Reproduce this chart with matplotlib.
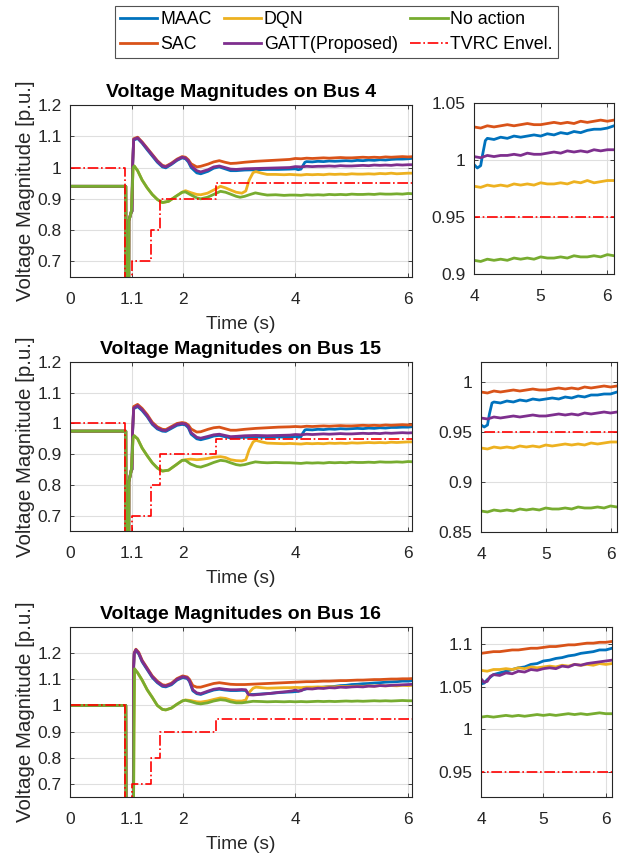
import matplotlib
matplotlib.use("Agg")
import matplotlib.pyplot as plt
from matplotlib.lines import Line2D

plt.rcParams['font.family'] = ['Liberation Sans', 'DejaVu Sans']

# ---------------- data ----------------
series_names = ["MAAC", "SAC", "DQN", "GATT(Proposed)", "No action"]
series_colors = ["#0072BD", "#D95319", "#EDB120", "#7E2F8E", "#77AC30"]
env_name = "TVRC Envel."

# TVRC envelope (step, post)
env_t = [0.0, 0.98, 1.1, 1.43, 1.6, 2.6, 6.1]
env_v = [1.0, 0.0, 0.7, 0.8, 0.9, 0.95, 0.95]

# ----- Bus 4 -----
b4_pre_t = [0.0, 0.99, 1.0, 1.04, 1.045, 1.09]
b4_pre_v = [0.94, 0.94, 0.30, 0.30, 0.83, 0.86]
b4_ss_t = [4.0, 4.1, 4.2, 4.3, 4.4, 4.5, 4.6, 4.7, 4.8, 4.9, 5.0, 5.1, 5.2, 5.3, 5.4, 5.5,
           5.6, 5.7, 5.8, 5.9, 6.0, 6.1]

b4_maac_t = [1.1, 1.11, 1.13, 1.2, 1.28, 1.37, 1.46, 1.55, 1.64, 1.7, 1.8, 1.9, 1.99, 2.05, 2.1,
             2.15, 2.25, 2.32, 2.45, 2.55, 2.65, 2.75, 2.85, 2.95, 3.1, 3.3, 3.5, 3.7, 3.9,
             4.0, 4.05, 4.1, 4.13, 4.17, 4.2, 4.3, 4.4, 4.5, 4.6, 4.7, 4.8, 4.9, 5.0, 5.1, 5.2,
             5.3, 5.4, 5.5, 5.6, 5.7, 5.8, 5.9, 6.0, 6.1]
b4_maac_v = [0.86, 1.0, 1.088, 1.093, 1.078, 1.057, 1.037, 1.017, 1.002, 0.999, 1.01, 1.023, 1.031, 1.028, 1.018,
             1.0, 0.983, 0.98, 0.988, 0.998, 1.002, 0.996, 0.99, 0.99, 0.992, 0.993, 0.994, 0.994, 0.995,
             0.996, 0.993, 0.995, 1.005, 1.017, 1.019, 1.018, 1.020, 1.019, 1.021, 1.020, 1.021, 1.022, 1.021, 1.023, 1.022,
             1.024, 1.023, 1.025, 1.024, 1.026, 1.027, 1.027, 1.028, 1.030]

b4_sac_t = [1.1, 1.11, 1.13, 1.2, 1.28, 1.37, 1.46, 1.55, 1.64, 1.7, 1.8, 1.9, 1.99, 2.05, 2.1,
            2.15, 2.25, 2.32, 2.45, 2.55, 2.65, 2.75, 2.85, 2.95, 3.1, 3.3, 3.5, 3.7, 3.9]
b4_sac_v = [0.86, 1.0, 1.092, 1.097, 1.082, 1.062, 1.042, 1.022, 1.007, 1.004, 1.014, 1.027, 1.035, 1.033, 1.025,
            1.012, 1.002, 1.004, 1.011, 1.018, 1.022, 1.017, 1.013, 1.014, 1.017, 1.020, 1.022, 1.024, 1.026]
b4_sac_ss = [1.029, 1.028, 1.030, 1.029, 1.030, 1.031, 1.030, 1.031, 1.032, 1.031, 1.031, 1.032, 1.033, 1.032,
             1.033, 1.032, 1.034, 1.033, 1.034, 1.035, 1.034, 1.035]

b4_dqn_t = [1.12, 1.14, 1.2, 1.28, 1.37, 1.46, 1.55, 1.64, 1.75, 1.88, 1.99, 2.05, 2.14, 2.25, 2.32, 2.44, 2.55,
            2.67, 2.76, 2.85, 2.95, 3.05, 3.12, 3.18, 3.25, 3.3, 3.4, 3.5, 3.65, 3.8, 3.9]
b4_dqn_v = [1.0, 1.005, 0.99, 0.96, 0.935, 0.914, 0.898, 0.888, 0.892, 0.908, 0.921, 0.926, 0.92, 0.914, 0.913, 0.918, 0.928,
            0.94, 0.935, 0.928, 0.921, 0.918, 0.925, 0.96, 0.984, 0.987, 0.982, 0.978, 0.978, 0.977, 0.978]
b4_dqn_ss = [0.977, 0.976, 0.978, 0.977, 0.978, 0.977, 0.979, 0.978, 0.979, 0.978, 0.980, 0.979, 0.979, 0.980,
             0.979, 0.981, 0.980, 0.982, 0.980, 0.981, 0.982, 0.982]

b4_gatt_t = [1.1, 1.11, 1.13, 1.2, 1.28, 1.37, 1.46, 1.55, 1.64, 1.7, 1.8, 1.9, 1.99, 2.05, 2.1,
             2.15, 2.25, 2.32, 2.45, 2.55, 2.65, 2.75, 2.85, 2.95, 3.1, 3.3, 3.5, 3.7, 3.9]
b4_gatt_v = [0.86, 1.0, 1.09, 1.095, 1.08, 1.06, 1.04, 1.02, 1.005, 1.002, 1.012, 1.025, 1.033, 1.03, 1.022,
             1.005, 0.99, 0.986, 0.993, 1.002, 1.005, 1.0, 0.995, 0.994, 0.996, 0.997, 0.998, 0.999, 1.0]
b4_gatt_ss = [1.003, 1.002, 1.004, 1.003, 1.004, 1.004, 1.005, 1.004, 1.006, 1.005, 1.005, 1.006, 1.007, 1.006,
              1.008, 1.007, 1.008, 1.007, 1.009, 1.008, 1.009, 1.009]

b4_none_t = [1.12, 1.14, 1.2, 1.28, 1.37, 1.46, 1.55, 1.64, 1.75, 1.88, 1.99, 2.05, 2.14, 2.25, 2.32, 2.44, 2.55,
             2.67, 2.76, 2.85, 2.95, 3.02, 3.1, 3.2, 3.29, 3.4, 3.5, 3.65, 3.8, 3.9]
b4_none_v = [1.0, 1.005, 0.99, 0.96, 0.935, 0.914, 0.898, 0.888, 0.892, 0.908, 0.921, 0.922, 0.913, 0.903, 0.900, 0.905, 0.914,
             0.924, 0.921, 0.915, 0.908, 0.905, 0.908, 0.914, 0.919, 0.915, 0.912, 0.913, 0.911, 0.912]
b4_none_ss = [0.912, 0.911, 0.913, 0.912, 0.913, 0.912, 0.914, 0.913, 0.914, 0.913, 0.915, 0.914, 0.914, 0.915,
              0.914, 0.916, 0.915, 0.915, 0.916, 0.915, 0.917, 0.916]

# ----- Bus 15 -----
b15_pre_t = [0.0, 0.99, 1.0, 1.04, 1.045, 1.09]
b15_pre_v = [0.975, 0.975, 0.30, 0.30, 0.81, 0.85]
b15_ss_t = b4_ss_t

b15_maac_t = [1.1, 1.11, 1.13, 1.2, 1.28, 1.37, 1.46, 1.55, 1.64, 1.7, 1.8, 1.9, 1.99, 2.05, 2.1,
              2.15, 2.25, 2.32, 2.45, 2.55, 2.65, 2.75, 2.85, 2.95, 3.1, 3.3, 3.5, 3.7, 3.9,
              4.0, 4.05, 4.1, 4.13, 4.17, 4.2, 4.3, 4.4, 4.5, 4.6, 4.7, 4.8, 4.9, 5.0, 5.1, 5.2,
              5.3, 5.4, 5.5, 5.6, 5.7, 5.8, 5.9, 6.0, 6.1]
b15_maac_v = [0.85, 0.97, 1.048, 1.055, 1.042, 1.022, 0.997, 0.982, 0.975, 0.974, 0.984, 0.994, 0.997, 0.995, 0.986,
              0.965, 0.95, 0.947, 0.953, 0.959, 0.961, 0.957, 0.953, 0.954, 0.955, 0.956, 0.955, 0.956, 0.956,
              0.957, 0.955, 0.957, 0.968, 0.979, 0.980, 0.979, 0.981, 0.980, 0.982, 0.981, 0.983, 0.982, 0.983, 0.984, 0.983,
              0.985, 0.984, 0.986, 0.985, 0.987, 0.987, 0.988, 0.988, 0.990]

b15_sac_t = [1.1, 1.11, 1.13, 1.2, 1.28, 1.37, 1.46, 1.55, 1.64, 1.7, 1.8, 1.9, 1.99, 2.05, 2.1,
             2.15, 2.25, 2.32, 2.45, 2.55, 2.65, 2.75, 2.85, 2.95, 3.1, 3.3, 3.5, 3.7, 3.9]
b15_sac_v = [0.85, 0.97, 1.055, 1.062, 1.049, 1.029, 1.004, 0.989, 0.981, 0.98, 0.99, 1.0, 1.003, 1.001, 0.995,
             0.982, 0.972, 0.973, 0.981, 0.986, 0.988, 0.983, 0.978, 0.978, 0.981, 0.984, 0.986, 0.988, 0.989]
b15_sac_ss = [0.990, 0.989, 0.991, 0.990, 0.991, 0.992, 0.991, 0.992, 0.993, 0.992, 0.992, 0.993, 0.994, 0.993,
              0.994, 0.993, 0.995, 0.994, 0.995, 0.996, 0.995, 0.996]

b15_dqn_t = [1.12, 1.14, 1.2, 1.28, 1.37, 1.46, 1.55, 1.64, 1.75, 1.88, 1.99, 2.05, 2.14, 2.25, 2.32, 2.44, 2.55,
             2.67, 2.76, 2.85, 2.95, 3.05, 3.12, 3.18, 3.25, 3.3, 3.4, 3.5, 3.65, 3.8, 3.9]
b15_dqn_v = [0.955, 0.96, 0.95, 0.92, 0.895, 0.872, 0.855, 0.845, 0.848, 0.865, 0.88, 0.882, 0.884, 0.882, 0.883, 0.886, 0.89,
             0.892, 0.889, 0.882, 0.879, 0.878, 0.882, 0.915, 0.94, 0.945, 0.94, 0.936, 0.935, 0.934, 0.935]
b15_dqn_ss = [0.934, 0.933, 0.935, 0.934, 0.935, 0.934, 0.936, 0.935, 0.936, 0.935, 0.937, 0.936, 0.937, 0.938,
              0.937, 0.938, 0.937, 0.939, 0.938, 0.939, 0.940, 0.940]

b15_gatt_t = [1.1, 1.11, 1.13, 1.2, 1.28, 1.37, 1.46, 1.55, 1.64, 1.7, 1.8, 1.9, 1.99, 2.05, 2.1,
              2.15, 2.25, 2.32, 2.45, 2.55, 2.65, 2.75, 2.85, 2.95, 3.1, 3.3, 3.5, 3.7, 3.9]
b15_gatt_v = [0.85, 0.97, 1.05, 1.058, 1.045, 1.025, 1.0, 0.985, 0.978, 0.977, 0.987, 0.997, 1.0, 0.998, 0.99,
              0.97, 0.955, 0.952, 0.958, 0.963, 0.965, 0.961, 0.957, 0.958, 0.96, 0.961, 0.96, 0.961, 0.962]
b15_gatt_ss = [0.964, 0.963, 0.965, 0.964, 0.965, 0.966, 0.965, 0.966, 0.967, 0.966, 0.966, 0.967, 0.968, 0.967,
               0.968, 0.967, 0.969, 0.968, 0.969, 0.970, 0.969, 0.970]

b15_none_t = [1.12, 1.14, 1.2, 1.28, 1.37, 1.46, 1.55, 1.64, 1.75, 1.88, 1.99, 2.05, 2.14, 2.25, 2.32, 2.44, 2.55,
              2.67, 2.76, 2.85, 2.95, 3.02, 3.1, 3.2, 3.29, 3.4, 3.5, 3.65, 3.8, 3.9]
b15_none_v = [0.955, 0.96, 0.95, 0.92, 0.895, 0.872, 0.855, 0.845, 0.848, 0.865, 0.88, 0.88, 0.868, 0.86, 0.858, 0.865, 0.873,
              0.88, 0.878, 0.872, 0.866, 0.864, 0.866, 0.871, 0.875, 0.873, 0.872, 0.873, 0.872, 0.872]
b15_none_ss = [0.871, 0.870, 0.872, 0.871, 0.872, 0.871, 0.873, 0.872, 0.873, 0.872, 0.874, 0.873, 0.873, 0.874,
               0.873, 0.875, 0.874, 0.874, 0.875, 0.874, 0.876, 0.875]

# ----- Bus 16 -----
b16_pre_t = [0.0, 0.99, 1.0, 1.12]
b16_pre_v = [1.0, 1.0, 0.30, 0.30]
b16_ss_t = b4_ss_t

b16_maac_t = [1.13, 1.14, 1.17, 1.22, 1.28, 1.37, 1.46, 1.55, 1.64, 1.7, 1.8, 1.9, 2.0, 2.08, 2.12,
              2.18, 2.25, 2.32, 2.45, 2.55, 2.65, 2.75, 2.85, 2.95, 3.05, 3.12, 3.17, 3.25, 3.4, 3.55, 3.7, 3.85,
              3.95, 4.0, 4.05, 4.1, 4.15, 4.2, 4.3, 4.4, 4.5, 4.6, 4.7, 4.8, 4.9, 5.0, 5.1, 5.2,
              5.3, 5.4, 5.5, 5.6, 5.7, 5.8, 5.9, 6.0, 6.1]
b16_maac_v = [1.15, 1.198, 1.21, 1.197, 1.167, 1.137, 1.107, 1.087, 1.073, 1.071, 1.079, 1.097, 1.107, 1.103, 1.092,
              1.056, 1.045, 1.042, 1.052, 1.059, 1.062, 1.059, 1.057, 1.057, 1.058, 1.057, 1.042, 1.042, 1.044, 1.046, 1.049, 1.051,
              1.052, 1.053, 1.054, 1.058, 1.061, 1.064, 1.066, 1.068, 1.070, 1.072, 1.073, 1.076, 1.077, 1.080, 1.081, 1.083,
              1.084, 1.086, 1.087, 1.089, 1.090, 1.091, 1.093, 1.093, 1.095]

b16_sac_t = [1.13, 1.14, 1.17, 1.22, 1.28, 1.37, 1.46, 1.55, 1.64, 1.7, 1.8, 1.9, 2.0, 2.08, 2.12,
             2.18, 2.25, 2.32, 2.45, 2.55, 2.65, 2.75, 2.85, 2.95, 3.1, 3.3, 3.5, 3.7, 3.9]
b16_sac_v = [1.15, 1.202, 1.215, 1.203, 1.173, 1.143, 1.113, 1.093, 1.079, 1.077, 1.085, 1.103, 1.113, 1.109, 1.1,
             1.076, 1.07, 1.07, 1.078, 1.084, 1.087, 1.084, 1.081, 1.08, 1.08, 1.082, 1.084, 1.086, 1.088]
b16_sac_ss = [1.089, 1.090, 1.091, 1.091, 1.092, 1.093, 1.093, 1.094, 1.095, 1.095, 1.096, 1.097, 1.097, 1.098,
              1.099, 1.099, 1.100, 1.101, 1.101, 1.102, 1.102, 1.103]

b16_dqn_t = [1.135, 1.145, 1.2, 1.28, 1.37, 1.46, 1.55, 1.64, 1.7, 1.8, 1.9, 2.0, 2.05, 2.14, 2.25, 2.32, 2.44, 2.55,
             2.67, 2.76, 2.85, 2.95, 3.05, 3.12, 3.18, 3.25, 3.3, 3.4, 3.5, 3.65, 3.8, 3.9]
b16_dqn_v = [0.9, 1.14, 1.125, 1.097, 1.06, 1.031, 1.0, 0.985, 0.983, 0.99, 1.005, 1.018, 1.021, 1.019, 1.014, 1.013, 1.017, 1.023,
             1.029, 1.027, 1.021, 1.017, 1.017, 1.021, 1.05, 1.066, 1.07, 1.068, 1.066, 1.067, 1.068, 1.068]
b16_dqn_ss = [1.069, 1.068, 1.070, 1.070, 1.071, 1.070, 1.072, 1.071, 1.073, 1.072, 1.073, 1.074, 1.073, 1.075,
              1.074, 1.076, 1.075, 1.076, 1.075, 1.077, 1.076, 1.077]

b16_gatt_t = [1.13, 1.14, 1.17, 1.22, 1.28, 1.37, 1.46, 1.55, 1.64, 1.7, 1.8, 1.9, 2.0, 2.08, 2.12,
              2.18, 2.25, 2.32, 2.45, 2.55, 2.65, 2.75, 2.85, 2.95, 3.05, 3.12, 3.17, 3.25, 3.4, 3.55, 3.7, 3.85,
              3.95, 4.0, 4.05, 4.1, 4.15, 4.2, 4.3, 4.4, 4.5, 4.6, 4.7, 4.8, 4.9, 5.0, 5.1, 5.2,
              5.3, 5.4, 5.5, 5.6, 5.7, 5.8, 5.9, 6.0, 6.1]
b16_gatt_v = [1.15, 1.2, 1.213, 1.2, 1.17, 1.14, 1.11, 1.09, 1.076, 1.074, 1.082, 1.1, 1.11, 1.106, 1.095,
              1.06, 1.048, 1.045, 1.055, 1.062, 1.065, 1.062, 1.06, 1.06, 1.061, 1.06, 1.041, 1.04, 1.043, 1.046, 1.05, 1.053,
              1.056, 1.059, 1.055, 1.056, 1.062, 1.064, 1.063, 1.066, 1.065, 1.068, 1.067, 1.070, 1.069, 1.071, 1.072, 1.071,
              1.074, 1.073, 1.076, 1.075, 1.077, 1.078, 1.079, 1.080, 1.081]

b16_none_t = [1.135, 1.145, 1.2, 1.28, 1.37, 1.46, 1.55, 1.64, 1.7, 1.8, 1.9, 2.0, 2.05, 2.14, 2.25, 2.32, 2.44, 2.55,
              2.67, 2.76, 2.85, 2.95, 3.05, 3.15, 3.25, 3.4, 3.5, 3.65, 3.8, 3.9]
b16_none_v = [0.9, 1.14, 1.125, 1.097, 1.06, 1.031, 1.0, 0.985, 0.983, 0.99, 1.005, 1.018, 1.02, 1.015, 1.008, 1.006, 1.01, 1.017,
              1.022, 1.02, 1.014, 1.01, 1.01, 1.013, 1.016, 1.015, 1.014, 1.015, 1.014, 1.015]
b16_none_ss = [1.014, 1.015, 1.014, 1.015, 1.016, 1.015, 1.016, 1.015, 1.016, 1.017, 1.016, 1.017, 1.016, 1.017,
               1.018, 1.017, 1.018, 1.017, 1.018, 1.019, 1.018, 1.018]

main_yticks = [0.7, 0.8, 0.9, 1.0, 1.1, 1.2]
main_ytick_labels = ["0.7", "0.8", "0.9", "1", "1.1", "1.2"]
main_xticks = [0, 1.1, 2, 4, 6]
main_xtick_labels = ["0", "1.1", "2", "4", "6"]
inset_xticks = [4, 5, 6]
inset_xtick_labels = ["4", "5", "6"]

bus_titles = ["Voltage Magnitudes on Bus 4", "Voltage Magnitudes on Bus 15", "Voltage Magnitudes on Bus 16"]
main_ylims = [(0.65, 1.2), (0.65, 1.2), (0.65, 1.3)]
inset_ylims = [(0.9, 1.05), (0.85, 1.02), (0.92, 1.12)]
inset_yticks = [[0.9, 0.95, 1.0, 1.05], [0.85, 0.9, 0.95, 1.0], [0.95, 1.0, 1.05, 1.1]]
inset_ytick_labels = [["0.9", "0.95", "1", "1.05"], ["0.85", "0.9", "0.95", "1"], ["0.95", "1", "1.05", "1.1"]]


def build(pre_t, pre_v, tr_t, tr_v, ss_t=None, ss_v=None):
    t = list(pre_t) + list(tr_t) + (list(ss_t) if ss_t is not None else [])
    v = list(pre_v) + list(tr_v) + (list(ss_v) if ss_v is not None else [])
    return t, v


buses = [
    [build(b4_pre_t, b4_pre_v, b4_maac_t, b4_maac_v),
     build(b4_pre_t, b4_pre_v, b4_sac_t, b4_sac_v, b4_ss_t, b4_sac_ss),
     build(b4_pre_t, b4_pre_v, b4_dqn_t, b4_dqn_v, b4_ss_t, b4_dqn_ss),
     build(b4_pre_t, b4_pre_v, b4_gatt_t, b4_gatt_v, b4_ss_t, b4_gatt_ss),
     build(b4_pre_t, b4_pre_v, b4_none_t, b4_none_v, b4_ss_t, b4_none_ss)],
    [build(b15_pre_t, b15_pre_v, b15_maac_t, b15_maac_v),
     build(b15_pre_t, b15_pre_v, b15_sac_t, b15_sac_v, b15_ss_t, b15_sac_ss),
     build(b15_pre_t, b15_pre_v, b15_dqn_t, b15_dqn_v, b15_ss_t, b15_dqn_ss),
     build(b15_pre_t, b15_pre_v, b15_gatt_t, b15_gatt_v, b15_ss_t, b15_gatt_ss),
     build(b15_pre_t, b15_pre_v, b15_none_t, b15_none_v, b15_ss_t, b15_none_ss)],
    [build(b16_pre_t, b16_pre_v, b16_maac_t, b16_maac_v),
     build(b16_pre_t, b16_pre_v, b16_sac_t, b16_sac_v, b16_ss_t, b16_sac_ss),
     build(b16_pre_t, b16_pre_v, b16_dqn_t, b16_dqn_v, b16_ss_t, b16_dqn_ss),
     build(b16_pre_t, b16_pre_v, b16_gatt_t, b16_gatt_v),
     build(b16_pre_t, b16_pre_v, b16_none_t, b16_none_v, b16_ss_t, b16_none_ss)],
]

# ---------------- figure ----------------
W, H = 630, 858
fig = plt.figure(figsize=(W / 100, H / 100), dpi=100)

main_boxes = [(70, 105, 412, 277), (70, 362, 412, 531), (70, 627, 412, 797)]
inset_boxes = [(474, 103, 614, 274), (481, 362, 617, 532), (481, 627, 612, 797)]

def px_rect(b):
    l, t, r, bt = b
    return [l / W, 1 - bt / H, (r - l) / W, (bt - t) / H]

TXT = "#262626"
GRID = "#dfdfdf"
TICK_FS = 12.5
LW = 2.0


def style(ax):
    ax.grid(True, color=GRID, linewidth=0.8)
    ax.set_axisbelow(True)
    for s in ax.spines.values():
        s.set_color(TXT)
        s.set_linewidth(0.8)
    ax.tick_params(direction="in", length=3, width=0.6, colors=TXT, labelsize=TICK_FS,
                   top=True, right=True)
    ax.tick_params(axis="x", pad=11)
    ax.tick_params(axis="y", pad=6)
    for lab in ax.get_xticklabels() + ax.get_yticklabels():
        lab.set_color(TXT)


for i in range(3):
    ax = fig.add_axes(px_rect(main_boxes[i]))
    axi = fig.add_axes(px_rect(inset_boxes[i]))
    for a in (ax, axi):
        for (t, v), c in zip(buses[i], series_colors):
            a.plot(t, v, color=c, linewidth=LW, solid_joinstyle="round")
        a.plot(env_t, env_v, color="#FF0000", linewidth=1.2, linestyle="-.", drawstyle="steps-post")
    ax.set_xlim(0, 6.07)
    ax.set_ylim(*main_ylims[i])
    ax.set_xticks(main_xticks)
    ax.set_xticklabels(main_xtick_labels)
    ax.set_yticks(main_yticks)
    ax.set_yticklabels(main_ytick_labels)
    ax.set_title(bus_titles[i], fontsize=14, fontweight="bold", color="black", pad=6)
    ax.set_xlabel("Time (s)", fontsize=13.8, color=TXT, labelpad=6)
    ax.set_ylabel("Voltage Magnitude [p.u.]", fontsize=14.8, color=TXT, labelpad=2)
    style(ax)

    axi.set_xlim(4, 6.1)
    axi.set_ylim(*inset_ylims[i])
    axi.set_xticks(inset_xticks)
    axi.set_xticklabels(inset_xtick_labels)
    axi.set_yticks(inset_yticks[i])
    axi.set_yticklabels(inset_ytick_labels[i])
    style(axi)

handles = [Line2D([], [], color=c, linewidth=LW) for c in series_colors]
handles.append(Line2D([], [], color="#FF0000", linewidth=1.2, linestyle="-."))
labels = series_names + [env_name]
leg = fig.legend(handles, labels, ncol=3,
                 loc="center", bbox_to_anchor=(336.5 / W, 1 - 32 / H), fontsize=12.8,
                 frameon=True, fancybox=False, edgecolor=TXT, handlelength=2.1,
                 handletextpad=0.15, columnspacing=0.7, labelspacing=0.42, borderpad=0.3,
                 borderaxespad=0)
leg.get_frame().set_linewidth(0.8)

fig.savefig("out.png", dpi=100)
